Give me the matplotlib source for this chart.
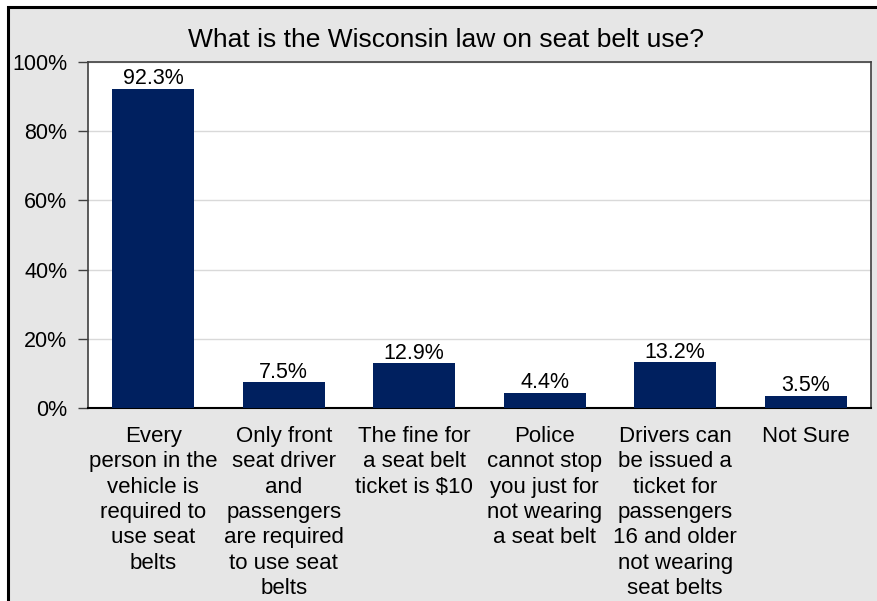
import matplotlib
matplotlib.use("Agg")
import matplotlib.pyplot as plt
from matplotlib.patches import Rectangle
from matplotlib.ticker import FuncFormatter

plt.rcParams['font.family'] = ['Liberation Sans', 'DejaVu Sans']

title = "What is the Wisconsin law on seat belt use?"
categories = [
    "Every\nperson in the\nvehicle is\nrequired to\nuse seat\nbelts",
    "Only front\nseat driver\nand\npassengers\nare required\nto use seat\nbelts",
    "The fine for\na seat belt\nticket is $10",
    "Police\ncannot stop\nyou just for\nnot wearing\na seat belt",
    "Drivers can\nbe issued a\nticket for\npassengers\n16 and older\nnot wearing\nseat belts",
    "Not Sure",
]
values = [92.3, 7.5, 12.9, 4.4, 13.2, 3.5]
y_ticks = [0, 20, 40, 60, 80, 100]

W, H = 878, 601
fig = plt.figure(figsize=(W / 100, H / 100), dpi=100, facecolor='white')

# grey chart frame with a dark border (continues past the right/bottom edge)
frame = Rectangle((8 / W, -0.05), 1.0, (H - 7) / H + 0.05, transform=fig.transFigure,
                  facecolor='#e6e6e6', edgecolor='black', linewidth=2.2, zorder=-10)
fig.patches.append(frame)

ax = fig.add_axes([88 / W, (H - 408) / H, (871 - 88) / W, (408 - 62) / H])
ax.set_zorder(5)
ax.set_facecolor('white')

x = list(range(len(values)))
ax.bar(x, values, width=0.63, color='#00205f', zorder=3)
for xi, v in zip(x, values):
    ax.text(xi, v + 1.3, f"{v:.1f}%", ha='center', va='baseline', fontsize=15.5, color='black')

ax.set_xlim(-0.5, len(values) - 0.5)
ax.set_ylim(0, 100)
ax.set_yticks(y_ticks)
ax.yaxis.set_major_formatter(FuncFormatter(lambda v, p: f"{v:.0f}%"))
ax.yaxis.grid(True, color='#d9d9d9', linewidth=1.0, zorder=0)
ax.set_axisbelow(True)

ax.set_xticks(x)
ax.set_xticklabels(categories, fontsize=16, linespacing=1.27, va='top')
ax.tick_params(axis='x', length=0, pad=13)
ax.tick_params(axis='y', length=7, width=1, color='#404040', labelsize=15.5, pad=8)

for side in ['left', 'top', 'right']:
    ax.spines[side].set_color('#404040')
    ax.spines[side].set_linewidth(1.2)
ax.spines['bottom'].set_color('black')
ax.spines['bottom'].set_linewidth(1.5)

fig.text(446 / W, 1 - 47 / H, title, ha='center', va='baseline', fontsize=19, color='black')

fig.savefig('out.png', dpi=100)
